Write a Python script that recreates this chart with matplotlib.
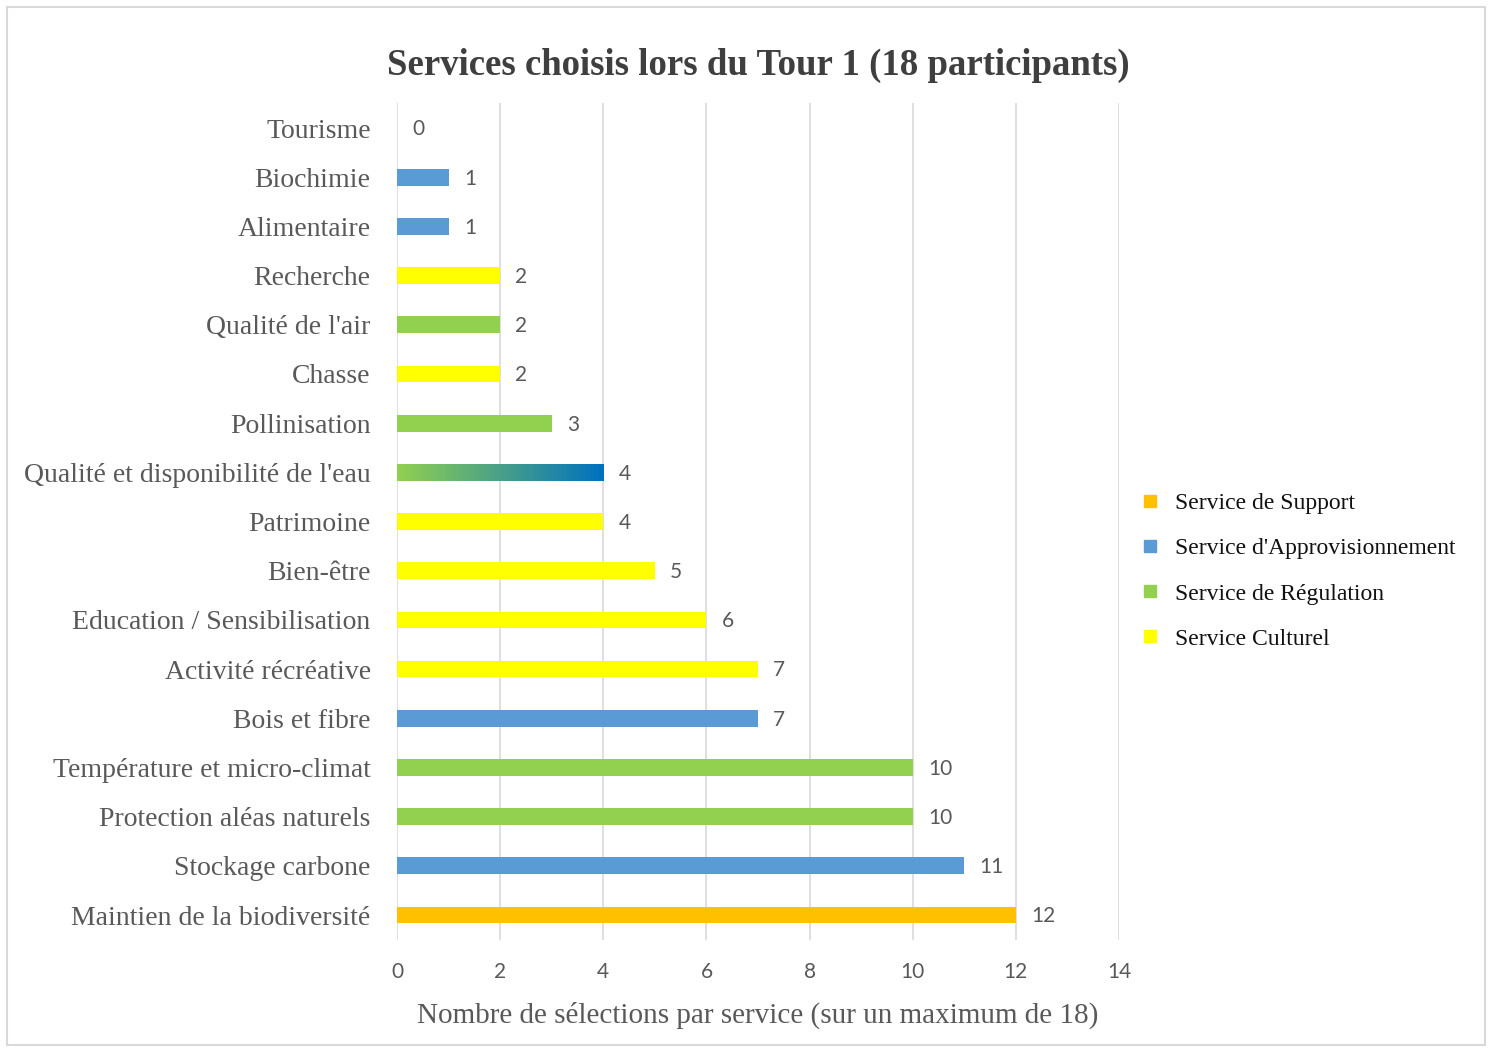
import matplotlib
matplotlib.use("Agg")
import matplotlib.pyplot as plt
import numpy as np
from matplotlib.patches import Rectangle
from matplotlib.lines import Line2D
from matplotlib.colors import LinearSegmentedColormap

# ---- data (top to bottom) ----
categories = ["Tourisme", "Biochimie", "Alimentaire", "Recherche", "Qualité de l'air",
              "Chasse", "Pollinisation", "Qualité et disponibilité de l'eau", "Patrimoine",
              "Bien-être", "Education / Sensibilisation", "Activité récréative",
              "Bois et fibre", "Température et micro-climat", "Protection aléas naturels",
              "Stockage carbone", "Maintien de la biodiversité"]
values = [0, 1, 1, 2, 2, 2, 3, 4, 4, 5, 6, 7, 7, 10, 10, 11, 12]
service_type = ["Culturel", "Approvisionnement", "Approvisionnement", "Culturel", "Régulation",
                "Culturel", "Régulation", "Régulation+Approvisionnement", "Culturel",
                "Culturel", "Culturel", "Culturel", "Approvisionnement", "Régulation",
                "Régulation", "Approvisionnement", "Support"]
legend_labels = ["Service de Support", "Service d'Approvisionnement",
                 "Service de Régulation", "Service Culturel"]
xticks = [0, 2, 4, 6, 8, 10, 12, 14]
title = "Services choisis lors du Tour 1 (18 participants)"
xlabel = "Nombre de sélections par service (sur un maximum de 18)"

colors = {"Support": "#FFC000", "Approvisionnement": "#5B9BD5",
          "Régulation": "#92D050", "Culturel": "#FFFF00"}

serif = ["Liberation Serif", "DejaVu Serif"]
sans = ["Lato", "DejaVu Sans"]
gray = "#595959"

fig = plt.figure(figsize=(14.91, 10.52), dpi=100)
# outer border
fig.patches.append(Rectangle((7 / 1491, 7 / 1052), 1478 / 1491, 1038 / 1052,
                             transform=fig.transFigure, fill=False,
                             edgecolor="#d9d9d9", linewidth=1.5))

ax = fig.add_axes([0.2663, 0.1068, 0.4842, 0.7949])
y = np.arange(len(categories))
bar_h = 0.34
for i, (v, t) in enumerate(zip(values, service_type)):
    if "+" in t:
        bar = ax.barh(y[i], v, height=bar_h, color="none", edgecolor="none", zorder=3)[0]
        cmap = LinearSegmentedColormap.from_list("g", ["#92D050", "#0070C0"])
        grad = np.linspace(0, 1, 256).reshape(1, -1)
        im = ax.imshow(grad, cmap=cmap, aspect="auto", zorder=3,
                       extent=[0, v, y[i] + bar_h / 2, y[i] - bar_h / 2])
        im.set_clip_path(bar)
    else:
        ax.barh(y[i], v, height=bar_h, color=colors[t], zorder=3)
    ax.annotate(str(v), (v, y[i]), xytext=(11, -1), textcoords="offset points",
                ha="left", va="center", fontsize=15, color=gray, family=sans)

ax.set_xlim(0, 14)
ax.set_ylim(len(categories) - 0.5, -0.5)
ax.set_xticks(xticks)
ax.set_xticklabels([str(t) for t in xticks], family=sans, fontsize=15, color=gray)
ax.set_yticks(y)
ax.set_yticklabels(categories, family=serif, fontsize=20, color=gray)
ax.tick_params(axis="both", length=0)
ax.tick_params(axis="x", pad=16)
ax.tick_params(axis="y", pad=19)
ax.grid(axis="x", color="#d9d9d9", linewidth=1.2, zorder=0)
ax.set_axisbelow(True)
for s in ax.spines.values():
    s.set_visible(False)
ax.set_xlabel(xlabel, family=serif, fontsize=21, color=gray, labelpad=14)

fig.text(0.5084, 0.938, title, ha="center", va="center", family=serif,
         fontsize=26.5, fontweight="bold", color="#3f3f3f")

handles = [Line2D([], [], marker="s", linestyle="none", markersize=9,
                  markerfacecolor=colors[k], markeredgecolor=colors[k])
           for k in ["Support", "Approvisionnement", "Régulation", "Culturel"]]
leg = fig.legend(handles, legend_labels, loc="center left",
                 bbox_to_anchor=(0.749, 0.457), frameon=False,
                 prop={"family": serif, "size": 17}, labelspacing=1.0,
                 handletextpad=0.55, handlelength=1.0)
for t in leg.get_texts():
    t.set_color("#111111")

fig.savefig("out.png", dpi=100)
